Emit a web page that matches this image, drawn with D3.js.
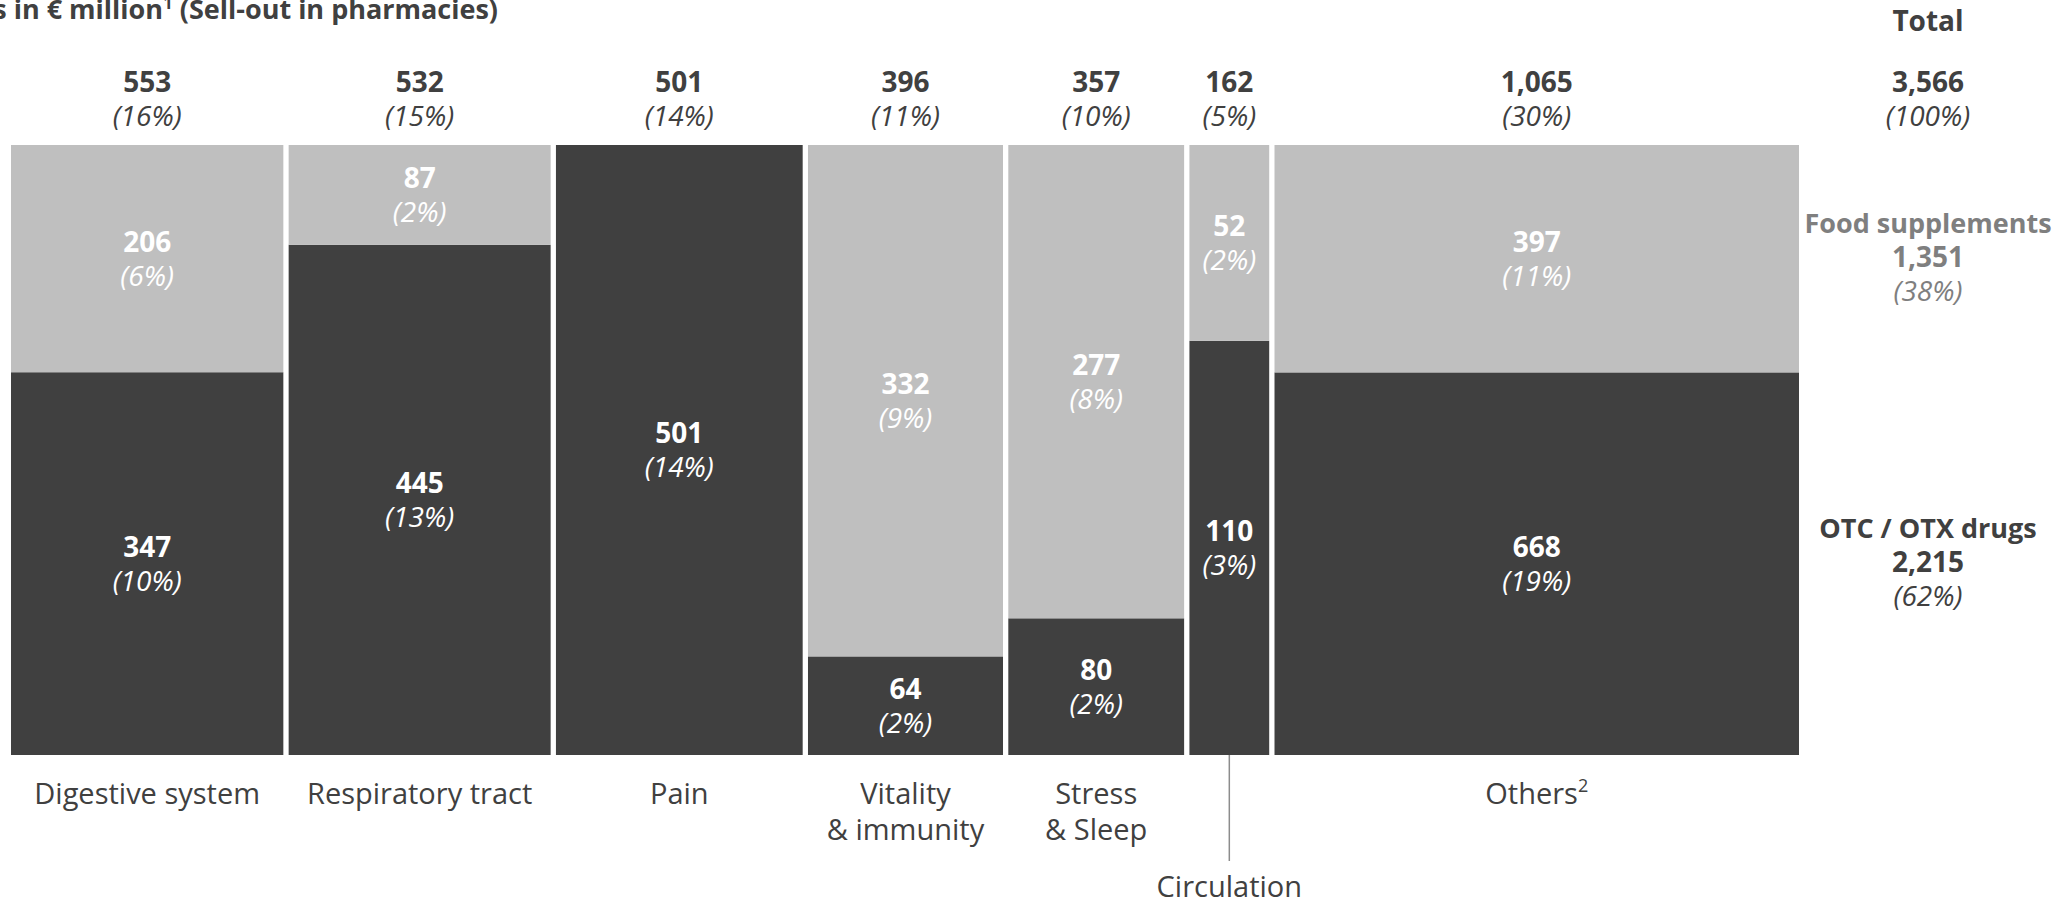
<!DOCTYPE html>
<html>
<head>
<meta charset="utf-8">
<script src="https://cdn.jsdelivr.net/npm/d3@7"></script>
<style>
  html, body { margin: 0; padding: 0; background: #ffffff; }
  svg { display: block; }
  text { font-family: "Open Sans", "Noto Sans", sans-serif; }
</style>
</head>
<body>
<svg id="chart" width="2071" height="902"></svg>
<script>
// ---------------- data ----------------
const categories = ["Digestive system", "Respiratory tract", "Pain", "Vitality|& immunity", "Stress|& Sleep", "Circulation", "Others"];
const otcValues  = [347, 445, 501, 64, 80, 110, 668];
const foodValues = [206, 87, 0, 332, 277, 52, 397];
const totals     = [553, 532, 501, 396, 357, 162, 1065];
const totalPct   = ["16%", "15%", "14%", "11%", "10%", "5%", "30%"];
const otcPct     = ["10%", "13%", "14%", "2%", "2%", "3%", "19%"];
const foodPct    = ["6%", "2%", "", "9%", "8%", "2%", "11%"];
const grandTotal = 3566;
const seriesNames = ["OTC / OTX drugs", "Food supplements"];
const seriesTotals = [2215, 1351];
const seriesPct = ["62%", "38%"];

// ---------------- layout ----------------
const W = 2071, H = 902;
const plotLeft = 11, plotRight = 1799, plotTop = 145, plotBottom = 755, gap = 5.3;
const dark = "#404040", light = "#bfbfbf", textDark = "#404040", textMid = "#7f7f7f";
const fsBold = 28, fsItal = 28, fsCat = 29;

const svg = d3.select("#chart");
svg.append("rect").attr("width", W).attr("height", H).attr("fill", "#fff");

const fmt = d3.format(",");
const n = categories.length;
const x = d3.scaleLinear().domain([0, grandTotal]).range([plotLeft, plotRight - gap * (n - 1)]);
const y = d3.scaleLinear().domain([0, 1]).range([plotBottom, plotTop]);

let cum = 0;
const cols = categories.map((c, i) => {
  const x0 = x(cum) + i * gap;
  const x1 = x(cum + totals[i]) + i * gap;
  cum += totals[i];
  const otcShare = otcValues[i] / totals[i];
  return { i, name: c, x0, x1, cx: (x0 + x1) / 2, otcShare };
});

// title (cropped on the left like the original)
svg.append("text")
  .attr("x", 498).attr("y", 19)
  .attr("text-anchor", "end")
  .attr("font-size", 27).attr("font-weight", 700).attr("fill", textDark)
  .html('Sales in € million<tspan font-size="17" dy="-10">1</tspan><tspan dy="10"> (Sell-out in pharmacies)</tspan>');

// bars
const g = svg.append("g");
cols.forEach(d => {
  g.append("rect")
    .attr("x", d.x0).attr("width", d.x1 - d.x0)
    .attr("y", y(d.otcShare)).attr("height", y(0) - y(d.otcShare))
    .attr("fill", dark);
  if (foodValues[d.i] > 0) {
    g.append("rect")
      .attr("x", d.x0).attr("width", d.x1 - d.x0)
      .attr("y", y(1)).attr("height", y(d.otcShare) - y(1))
      .attr("fill", light);
  }
});

function twoLine(parent, cx, cy, num, pct, color) {
  parent.append("text")
    .attr("x", cx).attr("y", cy - 17 + 10)
    .attr("text-anchor", "middle")
    .attr("font-size", fsBold).attr("font-weight", 700)
    .attr("fill", color).text(num);
  parent.append("text")
    .attr("x", cx).attr("y", cy + 17 + 10)
    .attr("text-anchor", "middle")
    .attr("font-size", fsItal).attr("font-style", "italic")
    .attr("fill", color).text("(" + pct + ")");
}

cols.forEach(d => {
  const ySplit = y(d.otcShare);
  twoLine(g, d.cx, (ySplit + y(0)) / 2, fmt(otcValues[d.i]), otcPct[d.i], "#fff");
  if (foodValues[d.i] > 0) {
    twoLine(g, d.cx, (y(1) + ySplit) / 2, fmt(foodValues[d.i]), foodPct[d.i], "#fff");
  }
  twoLine(g, d.cx, 99, fmt(totals[d.i]), totalPct[d.i], textDark);
});

const circIdx = categories.indexOf("Circulation");
cols.forEach(d => {
  if (d.i === circIdx) {
    g.append("line")
      .attr("x1", d.cx).attr("x2", d.cx)
      .attr("y1", plotBottom).attr("y2", 861)
      .attr("stroke", "#8c8c8c").attr("stroke-width", 1.5);
    g.append("text")
      .attr("x", d.cx).attr("y", 897)
      .attr("text-anchor", "middle").attr("font-size", fsCat).attr("fill", textDark)
      .text(d.name);
    return;
  }
  const lines = d.name.split("|");
  lines.forEach((l, k) => {
    const t = g.append("text")
      .attr("x", d.cx).attr("y", 804 + k * 36)
      .attr("text-anchor", "middle").attr("font-size", fsCat).attr("fill", textDark)
      .text(l);
    if (d.name === "Others") {
      t.append("tspan").attr("font-size", 18).attr("dy", -12).text("2");
    }
  });
});

const rx = 1928;
svg.append("text")
  .attr("x", rx).attr("y", 31).attr("text-anchor", "middle")
  .attr("font-size", fsBold).attr("font-weight", 700).attr("fill", textDark)
  .text("Total");
twoLine(svg, rx, 99, fmt(grandTotal), "100%", textDark);

const last = cols[n - 1];
const ySplitLast = y(last.otcShare);
const series = [
  { name: seriesNames[1], total: seriesTotals[1], pct: seriesPct[1], cy: (y(1) + ySplitLast) / 2 - 2, color: textMid },
  { name: seriesNames[0], total: seriesTotals[0], pct: seriesPct[0], cy: (ySplitLast + y(0)) / 2 - 2, color: textDark }
];
series.forEach(s => {
  svg.append("text")
    .attr("x", rx).attr("y", s.cy - 34 + 10).attr("text-anchor", "middle")
    .attr("font-size", 27).attr("font-weight", 700).attr("fill", s.color)
    .text(s.name);
  svg.append("text")
    .attr("x", rx).attr("y", s.cy + 10).attr("text-anchor", "middle")
    .attr("font-size", fsBold).attr("font-weight", 700).attr("fill", s.color)
    .text(fmt(s.total));
  svg.append("text")
    .attr("x", rx).attr("y", s.cy + 34 + 10).attr("text-anchor", "middle")
    .attr("font-size", fsItal).attr("font-style", "italic").attr("fill", s.color)
    .text("(" + s.pct + ")");
});
</script>
</body>
</html>
